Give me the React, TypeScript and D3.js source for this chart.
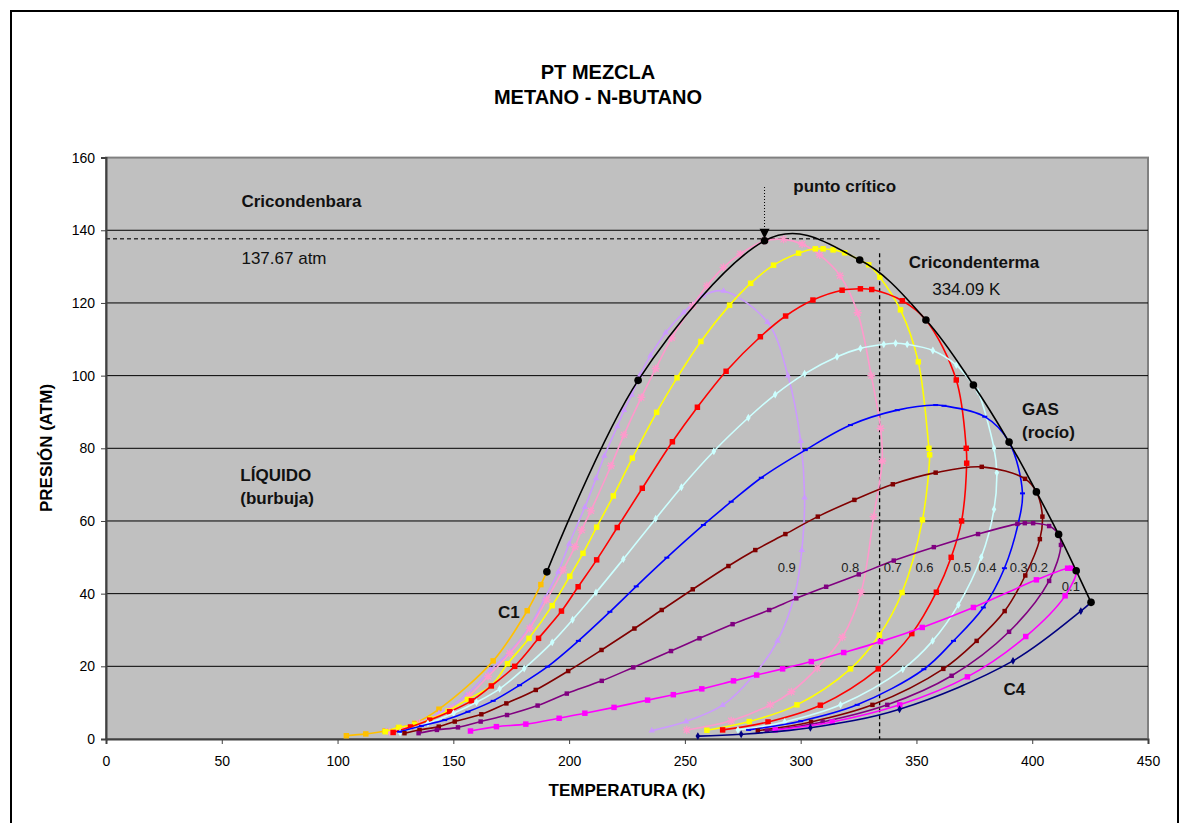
import React, { useRef, useEffect } from 'react';
import * as d3 from 'd3';

type Pt = [number, number]; // [temperatura K, presión atm]

// axis ticks
const tempTicks = [0, 50, 100, 150, 200, 250, 300, 350, 400, 450];
const presTicks = [0, 20, 40, 60, 80, 100, 120, 140, 160];

// pure methane vapour pressure
const c1: Pt[] = [[103.8, 0.9], [112.2, 1.4], [120.5, 2.2], [126.3, 3.1], [133.3, 4.3], [143.8, 8.2], [167.2, 21.5], [181.9, 35.3], [187.8, 42.5], [190.4, 46.0]];

// mixture envelopes (methane fraction), bubble side then dew side
const z09: Pt[] = [[121, 2.2], [132.5, 3.8], [143.8, 7.1], [155.6, 12.1], [166, 19], [174.4, 24], [183, 30.9], [189.5, 38.7], [195.3, 46], [200, 53.7], [206.8, 63.8], [211.6, 71.7], [215.2, 77.9], [220.8, 86], [223.7, 90.5], [227, 94.7], [230.6, 100.1], [235.1, 105.5], [241.7, 111.8], [249.5, 117.4], [257.8, 122], [266.7, 123.3], [285.7, 114.7], [294.5, 100], [300, 82], [301.7, 66.4], [300.5, 52], [297.6, 40.1], [290, 27], [279, 17], [266.3, 9.3], [250.5, 4.8], [235.7, 2.3]];
const z08: Pt[] = [[122.5, 2.0], [135.4, 4.3], [149.9, 8.4], [157, 12], [165, 17.2], [174.4, 23.6], [183, 30.5], [190.3, 38.3], [197.4, 46.5], [202.5, 52.9], [205.4, 57.5], [209.4, 62.8], [218.1, 75.2], [223.7, 83.7], [231.2, 94], [237.4, 101.9], [244.3, 110.4], [253.3, 119.2], [259.5, 124.7], [266.7, 129.8], [273.9, 133.5], [284.4, 137.1], [292.6, 137.5], [300.6, 136.2], [308.2, 133.2], [317, 127.5], [324.6, 117.3], [330.5, 100], [334.5, 85.5], [335.2, 76.5], [331.5, 61.2], [326.1, 40.4], [318, 28], [307.1, 19.5], [296, 13], [286.9, 9.4], [270, 5], [250.8, 2.5]];
const z07: Pt[] = [[120.6, 2.0], [126.5, 3.2], [133.3, 3.9], [140.2, 5.5], [147.7, 7.7], [156.1, 10.9], [166.4, 14.7], [173.4, 20.7], [182.7, 27.7], [192.7, 36.7], [200.3, 44.8], [206, 51.1], [211.9, 58.3], [219.1, 66.9], [227.3, 77.3], [237.8, 89.9], [246.6, 99.4], [256.9, 109.4], [269.3, 119.4], [278.4, 125.4], [288.3, 130.4], [299.1, 133.7], [306.3, 134.9], [309.7, 134.9], [314, 134.6], [319, 133.8], [325.5, 131.8], [329.4, 130.5], [334.2, 127.1], [343.1, 118.1], [350.8, 103.8], [355.4, 80], [355.7, 78.2], [352.6, 60.3], [343.8, 40.3], [334, 28.6], [321.5, 19.3], [298.4, 9.4], [277.8, 4.8], [259.5, 2.4]];
const z06: Pt[] = [[124, 1.8], [131.5, 3.3], [139.8, 5.2], [148.4, 7.5], [157.8, 10.5], [166.4, 14.6], [176.5, 20], [186.8, 27.7], [196.7, 35.2], [203.9, 41.9], [211.9, 49.3], [220.8, 58.2], [231.6, 69], [244.6, 81.8], [255.4, 91.3], [267.8, 101.2], [282.6, 110.7], [293.5, 116.4], [305.3, 120.8], [317.9, 123.5], [325.8, 123.9], [330.7, 123.7], [343.9, 120.6], [354.1, 115.3], [367.2, 98.8], [371.5, 80], [371.7, 75.9], [369.5, 60], [365, 50], [358.6, 40.4], [348, 29], [333.5, 19.3], [308.5, 9.3], [285.9, 4.7], [266.3, 2.5]];
const z05: Pt[] = [[127, 1.8], [139, 4.3], [150.1, 7.1], [160, 10.1], [170, 13.8], [180.6, 19.4], [192.7, 26.6], [201.5, 32.8], [211.6, 40.3], [223.4, 49.5], [237.4, 60.6], [248.5, 69.3], [262.5, 79.2], [277.4, 88.4], [289, 94.8], [301.7, 100.5], [315.7, 105.2], [325.8, 107.5], [335.9, 108.6], [341, 108.9], [346, 108.6], [357.1, 106.9], [367.2, 102.9], [374.6, 97.4], [376.6, 95.6], [383.5, 80], [384.7, 73.3], [383.5, 63.2], [378, 50], [368.1, 36.9], [357, 27], [344.1, 19.2], [317.2, 9.4], [293.1, 4.7], [272.9, 2.5]];
const z04: Pt[] = [[126.8, 2.0], [136.2, 3.6], [146.3, 5.2], [156.3, 7.5], [167.2, 10.5], [178.6, 14.8], [190.7, 19.9], [204, 27], [217.6, 35], [229, 42], [242.2, 49.9], [258, 58.9], [270, 65.3], [283, 71.9], [302, 79.5], [321.5, 86.4], [341.7, 90.5], [358.3, 91.9], [361.9, 91.7], [379.5, 88.7], [390, 81.7], [395.8, 67.6], [393.9, 59.2], [388, 47], [378.9, 36.2], [366, 27], [353.2, 19.2], [324.4, 9.4], [300, 4.9], [277.5, 2.5]];
const z03: Pt[] = [[128.9, 1.6], [135.4, 2.5], [143.7, 3.4], [150.6, 4.8], [162.1, 6.8], [172.9, 9.8], [185.6, 13.5], [199.6, 18.7], [214, 24.5], [228.2, 30.4], [240, 35.5], [253.4, 41.2], [268.8, 47.6], [280.4, 52], [293.4, 56.4], [307.4, 61.2], [323.2, 65.8], [339.8, 70.1], [358.3, 73.3], [378.2, 74.9], [396.9, 71.6], [401.8, 68], [404.4, 61.2], [403.3, 55], [397, 45], [388.1, 35.2], [376, 27], [361.6, 19.3], [331, 9.4], [304.5, 4.7], [281.5, 2.3]];
const z02: Pt[] = [[135, 1.6], [142.9, 2.5], [152, 3.2], [161.8, 4.8], [173.2, 6.6], [186.4, 9.2], [199, 12.5], [214.1, 16], [227.7, 19.7], [244, 24.2], [256.3, 27.7], [270.6, 31.6], [286.4, 35.5], [298.1, 38.7], [311, 41.9], [325.1, 45.3], [340.2, 49.1], [357.5, 52.8], [376.6, 56.4], [393.6, 59.2], [396.8, 59.4], [400.4, 59.4], [407.3, 58.6], [411.4, 56.3], [412.4, 53.4], [407.3, 43.5], [390, 29.5], [365.2, 17.4], [337.4, 9.4], [309.5, 4.7], [285.4, 2.3]];
const z01: Pt[] = [[157.4, 2.2], [168.6, 3.4], [181.3, 4.1], [195.7, 5.7], [206.8, 7.1], [219.4, 8.7], [233.9, 10.7], [245, 12.2], [257.3, 13.8], [271, 16], [281, 17.6], [292.2, 19.3], [304.6, 21.3], [318.6, 23.8], [334.5, 26.8], [352.5, 30.7], [374.6, 36.2], [401.8, 43.8], [415.3, 47], [417, 47], [419, 46.3], [414.2, 39.4], [397.2, 28.2], [372, 17.1], [342.8, 9.4], [313.6, 4.7], [289, 2.5]];

// pure n-butane vapour pressure
const c4: Pt[] = [[255.6, 0.8], [274.3, 1.3], [304.2, 3.1], [342.7, 8.2], [391.7, 21.5], [421, 35.2], [425.4, 37.6]];

// locus of critical points
const critLocus: Pt[] = [[190.4, 46.0], [229.8, 98.7], [284.4, 137.1], [325.5, 131.8], [354.1, 115.3], [374.6, 97.4], [390.0, 81.7], [401.8, 68.0], [411.4, 56.3], [419.0, 46.3], [425.4, 37.6]];

const fractionLabels = ['0.9', '0.8', '0.7', '0.6', '0.5', '0.4', '0.3', '0.2', '0.1'];
const fractionLabelAt: Pt[] = [[290.1, 47.3], [317.5, 47.3], [335.9, 47.3], [349.6, 47.3], [365.9, 47.3], [376.8, 47.3], [390.3, 47.3], [399, 47.3], [412.8, 42.2]];

const cricondenbara = 137.67;
const cricondenterma = 334.09;
const puntoCritico: Pt = [284.4, 137.1];

const App = () => {
  const chartRef = useRef<SVGSVGElement | null>(null);

  useEffect(() => {
    const width = 1189;
    const height = 823;
    const font = "'Liberation Sans', Arial, sans-serif";

    const svg = d3.select(chartRef.current);
    svg.selectAll('*').remove();

    const x = d3.scaleLinear().domain([0, 450]).range([106, 1148]);
    const y = d3.scaleLinear().domain([0, 160]).range([739, 157.6]);

    // chart frame
    svg.append('rect').attr('width', width).attr('height', height).attr('fill', '#fff');
    svg.append('rect')
      .attr('x', 11).attr('y', 11).attr('width', 1167).attr('height', 830)
      .attr('fill', 'none').attr('stroke', '#000').attr('stroke-width', 2);

    // title
    const title = svg.append('text').attr('x', 598).attr('text-anchor', 'middle')
      .attr('font-family', font).attr('font-weight', 'bold').attr('font-size', 20);
    title.append('tspan').attr('x', 598).attr('y', 79).text('PT MEZCLA');
    title.append('tspan').attr('x', 598).attr('y', 104).text('METANO - N-BUTANO');

    // plot area
    svg.append('rect')
      .attr('x', x(0)).attr('y', y(160))
      .attr('width', x(450) - x(0)).attr('height', y(0) - y(160))
      .attr('fill', '#C0C0C0').attr('stroke', '#808080').attr('stroke-width', 2);

    // gridlines
    svg.append('g').selectAll('line')
      .data(presTicks.filter(d => d > 0 && d < 160))
      .enter().append('line')
      .attr('x1', x(0)).attr('x2', x(450))
      .attr('y1', d => y(d)).attr('y2', d => y(d))
      .attr('stroke', '#000').attr('stroke-width', 1);

    // axes
    const xAxis = svg.append('g').attr('transform', `translate(0,${y(0)})`)
      .call(d3.axisBottom(x).tickValues(tempTicks).tickSize(5).tickPadding(12));
    const yAxis = svg.append('g').attr('transform', `translate(${x(0)},0)`)
      .call(d3.axisLeft(y).tickValues(presTicks).tickSize(5).tickPadding(6));
    [xAxis, yAxis].forEach(a => {
      a.select('.domain').attr('stroke', '#404040').attr('stroke-width', 2);
      a.selectAll('.tick line').attr('stroke', '#404040');
      a.selectAll('.tick text').attr('font-family', font).attr('font-size', 14).attr('fill', '#000');
    });

    // axis titles
    svg.append('text').attr('x', 627).attr('y', 796).attr('text-anchor', 'middle')
      .attr('font-family', font).attr('font-weight', 'bold').attr('font-size', 17)
      .text('TEMPERATURA (K)');
    svg.append('text').attr('transform', 'translate(52,448) rotate(-90)').attr('text-anchor', 'middle')
      .attr('font-family', font).attr('font-weight', 'bold').attr('font-size', 17)
      .text('PRESIÓN (ATM)');

    // cricondenbara / cricondenterma guides
    svg.append('line')
      .attr('x1', x(0)).attr('x2', x(cricondenterma))
      .attr('y1', y(cricondenbara)).attr('y2', y(cricondenbara))
      .attr('stroke', '#333').attr('stroke-width', 1.3).attr('stroke-dasharray', '4,3');
    svg.append('line')
      .attr('x1', x(cricondenterma)).attr('x2', x(cricondenterma))
      .attr('y1', y(133.7)).attr('y2', y(0))
      .attr('stroke', '#000').attr('stroke-width', 1.3).attr('stroke-dasharray', '4,3');

    const series = [
      { key: 'C1', color: '#FFC000', marker: 'square', data: c1 },
      { key: '0.9', color: '#CC99FF', marker: 'triangle', data: z09 },
      { key: '0.8', color: '#FF99CC', marker: 'star', data: z08 },
      { key: '0.7', color: '#FFFF00', marker: 'square', data: z07 },
      { key: '0.6', color: '#FF0000', marker: 'square', data: z06 },
      { key: '0.5', color: '#CCFFFF', marker: 'diamond', data: z05 },
      { key: '0.4', color: '#0000FF', marker: 'dash', data: z04 },
      { key: '0.3', color: '#800000', marker: 'smallsquare', data: z03 },
      { key: '0.2', color: '#800080', marker: 'smallsquare', data: z02 },
      { key: '0.1', color: '#FF00FF', marker: 'square', data: z01 },
      { key: 'C4', color: '#000080', marker: 'diamond', data: c4 },
    ];

    const line = d3.line<Pt>()
      .x(d => x(d[0])).y(d => y(d[1]))
      .curve(d3.curveCatmullRom.alpha(0.5));

    const symbolPath = (kind: string) => {
      if (kind === 'square') return d3.symbol(d3.symbolSquare, 30)();
      if (kind === 'smallsquare') return d3.symbol(d3.symbolSquare, 20)();
      if (kind === 'diamond') return d3.symbol(d3.symbolDiamond, 18)();
      if (kind === 'triangle') return d3.symbol(d3.symbolTriangle, 18)();
      if (kind === 'dash') return 'M-2.5,-1L2.5,-1L2.5,1L-2.5,1Z';
      return 'M-4,0L4,0M0,-4L0,4M-3,-3L3,3M-3,3L3,-3';
    };

    series.forEach(s => {
      const g = svg.append('g');
      g.append('path').datum(s.data)
        .attr('d', line).attr('fill', 'none')
        .attr('stroke', s.color).attr('stroke-width', 1.6);
      g.selectAll('path.mk').data(s.data).enter().append('path')
        .attr('class', 'mk')
        .attr('transform', d => `translate(${x(d[0])},${y(d[1])})`)
        .attr('d', symbolPath(s.marker))
        .attr('fill', s.color)
        .attr('stroke', s.marker === 'star' ? s.color : 'none')
        .attr('stroke-width', 1.3);
    });

    // locus of critical points
    svg.append('path').datum(critLocus)
      .attr('d', d3.line<Pt>().x(d => x(d[0])).y(d => y(d[1])).curve(d3.curveCardinal.tension(0)))
      .attr('fill', 'none').attr('stroke', '#000').attr('stroke-width', 1.6);
    svg.append('g').selectAll('circle').data(critLocus).enter().append('circle')
      .attr('cx', d => x(d[0])).attr('cy', d => y(d[1])).attr('r', 3.8).attr('fill', '#000');

    // punto crítico arrow
    const ax = x(puntoCritico[0]);
    const tipY = y(puntoCritico[1]) - 2;
    svg.append('line').attr('x1', ax).attr('x2', ax).attr('y1', 187).attr('y2', tipY - 8)
      .attr('stroke', '#000').attr('stroke-width', 1).attr('stroke-dasharray', '1,2');
    svg.append('path')
      .attr('d', `M${ax - 5},${tipY - 10}L${ax + 5},${tipY - 10}L${ax},${tipY}Z`)
      .attr('fill', '#000');

    // composition labels
    svg.append('g').selectAll('text').data(fractionLabels).enter().append('text')
      .attr('x', (d, i) => x(fractionLabelAt[i][0]))
      .attr('y', (d, i) => y(fractionLabelAt[i][1]) + 5)
      .attr('font-family', font).attr('font-size', 13).attr('fill', '#222')
      .text(d => d);

    // annotations
    const notes = [
      { t: 'Cricondenbara', at: [58.5, 146.3], bold: true },
      { t: '137.67 atm', at: [58.5, 130.7], bold: false },
      { t: 'punto crítico', at: [296.8, 150.4], bold: true },
      { t: 'Cricondenterma', at: [346.7, 129.5], bold: true },
      { t: '334.09 K', at: [356.8, 122.2], bold: false },
      { t: 'GAS', at: [395.6, 89.3], bold: true },
      { t: '(rocío)', at: [395.6, 82.9], bold: true },
      { t: 'LÍQUIDO', at: [58, 70.9], bold: true },
      { t: '(burbuja)', at: [58, 64.6], bold: true },
      { t: 'C1', at: [169.3, 33.2], bold: true },
      { t: 'C4', at: [387.6, 12.2], bold: true },
    ];
    svg.append('g').selectAll('text').data(notes).enter().append('text')
      .attr('x', d => x(d.at[0])).attr('y', d => y(d.at[1]))
      .attr('font-family', font).attr('font-size', 17)
      .attr('font-weight', d => (d.bold ? 'bold' : 'normal'))
      .attr('fill', '#111')
      .text(d => d.t);
  }, []);

  return (
    <svg ref={chartRef} width={1189} height={823}
      style={{ position: 'absolute', left: 0, top: 0, display: 'block' }} />
  );
};

export default App;
